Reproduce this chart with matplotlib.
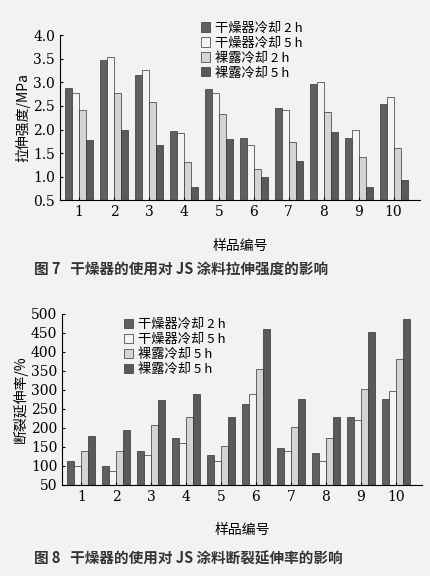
import matplotlib
matplotlib.use("Agg")
import matplotlib.pyplot as plt
import numpy as np

plt.rcParams['font.family'] = ['Noto Sans CJK SC', 'DejaVu Sans']

samples = [str(i) for i in range(1, 11)]
legend1 = ["干燥器冷却 2 h", "干燥器冷却 5 h", "裸露冷却 2 h", "裸露冷却 5 h"]
legend2 = ["干燥器冷却 2 h", "干燥器冷却 5 h", "裸露冷却 5 h", "裸露冷却 5 h"]
tensile = [
    [2.88, 3.48, 3.15, 1.97, 2.85, 1.83, 2.46, 2.97, 1.82, 2.54],
    [2.78, 3.53, 3.27, 1.92, 2.78, 1.67, 2.42, 3.01, 2.00, 2.68],
    [2.42, 2.78, 2.58, 1.32, 2.33, 1.17, 1.74, 2.37, 1.42, 1.61],
    [1.78, 2.00, 1.68, 0.78, 1.80, 0.99, 1.34, 1.94, 0.78, 0.94],
]
elong = [
    [112, 100, 140, 174, 128, 262, 147, 134, 230, 275],
    [100, 87, 128, 160, 113, 290, 140, 113, 222, 296],
    [140, 140, 207, 230, 153, 355, 202, 174, 302, 382],
    [180, 195, 274, 290, 230, 460, 275, 230, 452, 486],
]
colors = ['#606060', '#f4f4f4', '#d4d4d4', '#5a5a5a']
bg = '#f2f2f2'

fig = plt.figure(figsize=(4.31, 5.76), dpi=100, facecolor=bg)

def draw(ax, data, labels, ylim, yticks, ylabel, fmt, anchor):
    ax.set_facecolor(bg)
    x = np.arange(len(samples))
    w = 0.2
    for i, d in enumerate(data):
        ax.bar(x + (i - 1.5) * w, np.array(d) - ylim[0], w, bottom=ylim[0],
               color=colors[i], edgecolor='#333333', linewidth=0.5, label=labels[i])
    ax.set_ylim(*ylim)
    ax.set_xlim(-0.55, 9.75)
    ax.set_yticks(yticks)
    ax.set_yticklabels([fmt(v) for v in yticks], fontsize=10, family='DejaVu Serif')
    ax.set_xticks(x)
    ax.set_xticklabels(samples, fontsize=10, family='DejaVu Serif')
    for s in ['top', 'right']:
        ax.spines[s].set_visible(False)
    ax.tick_params(length=2, direction='in')
    ax.set_ylabel(ylabel, fontsize=10, labelpad=2)
    ax.set_xlabel("样品编号", fontsize=10, labelpad=14)
    ax.legend(loc='upper left', bbox_to_anchor=anchor,
              frameon=False, fontsize=9.5, handlelength=0.7, handleheight=0.7,
              labelspacing=0.15, borderpad=0.1, handletextpad=0.4)

ax1 = fig.add_axes([0.139, 0.652, 0.835, 0.287])
draw(ax1, tensile, legend1, (0.5, 4.0), np.arange(0.5, 4.01, 0.5), "拉伸强度/MPa",
     lambda v: f"{v:.1f}", (0.37, 1.13))
fig.text(0.08, 0.525, "图 7   干燥器的使用对 JS 涂料拉伸强度的影响", fontsize=10.5, fontweight='bold', color='#333333')

ax2 = fig.add_axes([0.144, 0.158, 0.835, 0.297])
draw(ax2, elong, legend2, (50, 500), np.arange(50, 501, 50), "断裂延伸率/%",
     lambda v: f"{int(v)}", (0.15, 1.02))
fig.text(0.08, 0.022, "图 8   干燥器的使用对 JS 涂料断裂延伸率的影响", fontsize=10.5, fontweight='bold', color='#333333')

fig.savefig("out.png", dpi=100, facecolor=bg)
